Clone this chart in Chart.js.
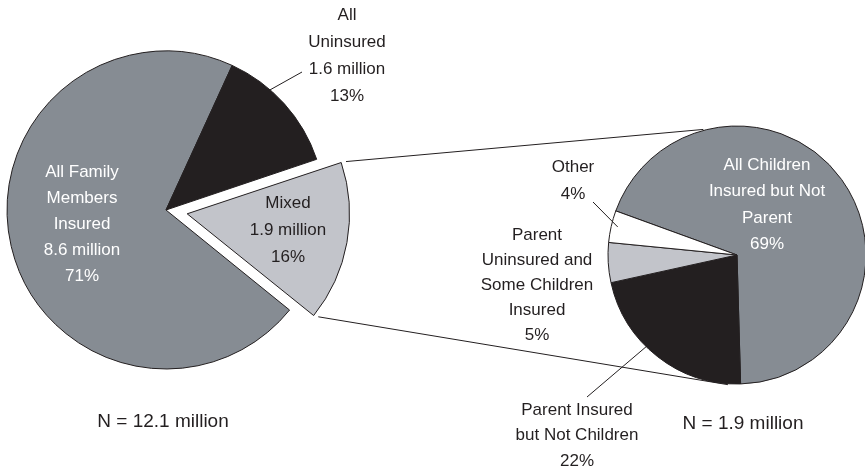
<!DOCTYPE html>
<html>
<head>
<meta charset="utf-8">
<script src="https://cdn.jsdelivr.net/npm/chart.js@4.4.1/dist/chart.umd.min.js"></script>
<style>
    body {
        margin: 0;
        background: #fff;
    }

    .frame {
        position: relative;
        width: 865px;
        height: 470px;
    }

    .frame canvas {
        position: absolute;
        left: 0;
        top: 0;
    }
</style>
</head>
<body>
<div class="frame">
    <canvas id="familyPie" width="865" height="470"></canvas>
    <canvas id="childPie" width="865" height="470"></canvas>
</div>
<script>
    // families by insurance status
    var familyLabels = [['All Family', 'Members', 'Insured'], ['All', 'Uninsured'], ['Mixed']];
    var familyShares = [71, 13, 16];
    var familyMillions = [8.6, 1.6, 1.9];
    var familyTotal = 12.1;

    // breakdown of the mixed families
    var childLabels = [['All Children', 'Insured but Not', 'Parent'], ['Parent Insured', 'but Not Children'], ['Parent', 'Uninsured and', 'Some Children', 'Insured'], ['Other']];
    var childShares = [69, 22, 5, 4];
    var childTotal = familyMillions[2];

    var GRAY = '#868c93',
        BLACK = '#231f20',
        LIGHT = '#c2c4ca',
        WHITE = '#ffffff';
    var FONT = '"Liberation Sans", Arial, Helvetica, sans-serif';

    // text blocks, placed relative to each pie's centre
    var familyNotes = [
        { dx: -84, dy: -38, gap: 26, color: WHITE },
        { dx: 181, dy: -195, gap: 27, color: BLACK, leader: { x: 136, y: -138, t: 0.33, r: 0.96 } },
        { dx: 122, dy: -7, gap: 27, color: BLACK }
    ];
    var childNotes = [
        { dx: 30, dy: -90, gap: 26.5, color: WHITE },
        { dx: -160, dy: 155, gap: 25.5, color: BLACK, leader: { x: -150, y: 142, t: 0.575, r: 0.86 } },
        { dx: -200, dy: -20, gap: 25, color: BLACK },
        { dx: -164, dy: -88, gap: 27, color: BLACK, leader: { x: -144, y: -53, t: 0.53, r: 0.95 } }
    ];

    var familyText = familyLabels.map(function(l, i) {
        return l.concat([familyMillions[i] + ' million', familyShares[i] + '%']);
    });
    var childText = childLabels.map(function(l, i) {
        return l.concat([childShares[i] + '%']);
    });

    function drawNotes(chart, notes, text, total, totalPos) {
        var ctx = chart.ctx;
        var arcs = chart.getDatasetMeta(0).data;
        var cx = arcs[0].x,
            cy = arcs[0].y,
            R = arcs[0].outerRadius;
        ctx.save();
        ctx.textAlign = 'center';
        ctx.textBaseline = 'middle';
        ctx.font = '17px ' + FONT;
        notes.forEach(function(n, i) {
            ctx.fillStyle = n.color;
            text[i].forEach(function(s, k) {
                ctx.fillText(s, cx + n.dx, cy + n.dy + k * n.gap);
            });
            if (n.leader) {
                var a = arcs[i];
                var ang = a.startAngle + n.leader.t * (a.endAngle - a.startAngle);
                ctx.beginPath();
                ctx.moveTo(cx + n.leader.x, cy + n.leader.y);
                ctx.lineTo(cx + Math.cos(ang) * R * n.leader.r, cy + Math.sin(ang) * R * n.leader.r);
                ctx.strokeStyle = BLACK;
                ctx.lineWidth = 1;
                ctx.stroke();
            }
        });
        ctx.font = '19px ' + FONT;
        ctx.fillStyle = BLACK;
        ctx.fillText('N = ' + total + ' million', cx + totalPos[0], cy + totalPos[1]);
        ctx.restore();
    }

    function pieOptions(rotation, radius, padding) {
        return {
            responsive: false,
            devicePixelRatio: 1,
            animation: false,
            events: [],
            rotation: rotation,
            radius: radius,
            layout: { padding: padding },
            plugins: {
                legend: { display: false },
                tooltip: { enabled: false }
            }
        };
    }

    var familyChart = new Chart(document.getElementById('familyPie'), {
        type: 'pie',
        data: {
            labels: familyLabels,
            datasets: [{
                data: familyShares,
                backgroundColor: [GRAY, BLACK, LIGHT],
                borderColor: BLACK,
                borderWidth: 1,
                offset: [0, 0, 86]
            }]
        },
        options: pieOptions(129, 159, { left: 0, right: 533, top: 0, bottom: 50 }),
        plugins: [{
            id: 'familyNotes',
            afterDraw: function(chart) {
                drawNotes(chart, familyNotes, familyText, familyTotal, [-3, 212]);
            }
        }]
    });

    // point on the pie rim, angle in degrees clockwise from 12 o'clock
    function rimPoint(arc, deg, extra) {
        var a = (deg - 90) * Math.PI / 180;
        var r = arc.outerRadius + (extra || 0);
        return [arc.x + Math.cos(a) * r, arc.y + Math.sin(a) * r];
    }

    var childChart = new Chart(document.getElementById('childPie'), {
        type: 'pie',
        data: {
            labels: childLabels,
            datasets: [{
                data: childShares,
                backgroundColor: [GRAY, BLACK, LIGHT, WHITE],
                borderColor: BLACK,
                borderWidth: 1
            }]
        },
        options: pieOptions(-70, 129, { left: 609, right: 0, top: 40, bottom: 0 }),
        plugins: [{
            id: 'childNotes',
            afterDraw: function(chart) {
                var ctx = chart.ctx;
                // lines joining the pulled-out slice to the breakdown pie
                var mixed = familyChart.getDatasetMeta(0).data[2];
                var shift = (mixed.options.offset || 0) / 4;
                var span = mixed.endAngle - mixed.startAngle;
                var grow = shift * (1 - Math.sin(Math.min(Math.PI, span)));
                var half = (mixed.startAngle + mixed.endAngle) / 2;
                var ox = mixed.x + Math.cos(half) * shift,
                    oy = mixed.y + Math.sin(half) * shift;
                var R = mixed.outerRadius + grow;
                var rim = chart.getDatasetMeta(0).data[0];
                var ends = [rimPoint(rim, 345, 1), rimPoint(rim, 184, 1)];
                [mixed.startAngle, mixed.endAngle].forEach(function(a, i) {
                    var sx = ox + Math.cos(a) * R,
                        sy = oy + Math.sin(a) * R;
                    var ex = ends[i][0],
                        ey = ends[i][1];
                    var len = Math.hypot(ex - sx, ey - sy);
                    sx += (ex - sx) / len * 5;
                    sy += (ey - sy) / len * 5;
                    ctx.beginPath();
                    ctx.moveTo(sx, sy);
                    ctx.lineTo(ex, ey);
                    ctx.strokeStyle = BLACK;
                    ctx.lineWidth = 1;
                    ctx.stroke();
                });
                drawNotes(chart, childNotes, childText, childTotal, [6, 169]);
            }
        }]
    });
</script>
</body>
</html>
